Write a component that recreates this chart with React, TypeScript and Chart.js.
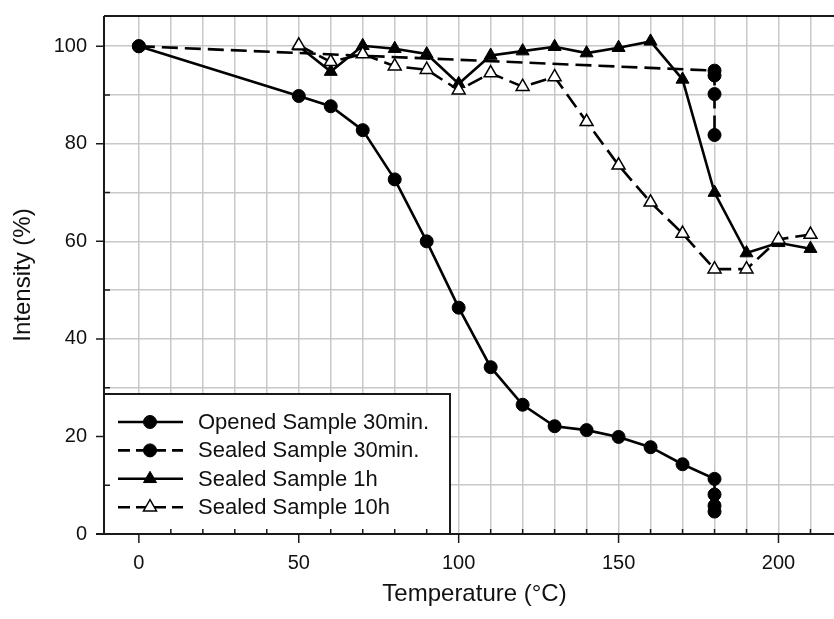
import React, { useEffect, useRef } from 'react';
import { Chart, registerables } from 'chart.js';

Chart.register(...registerables);

const FONT = "'Liberation Sans', Arial, Helvetica, sans-serif";

const seriesLabels = [
  'Opened Sample 30min.',
  'Sealed Sample 30min.',
  'Sealed Sample 1h',
  'Sealed Sample 10h',
];

const openedTemp = [0, 50, 60, 70, 80, 90, 100, 110, 120, 130, 140, 150, 160, 170, 180, 180, 180, 180];
const openedIntensity = [100, 89.8, 87.7, 82.8, 72.7, 60.0, 46.4, 34.2, 26.5, 22.1, 21.3, 19.9, 17.8, 14.3, 11.3, 8.1, 5.8, 4.6];

const sealed30Temp = [0, 180, 180, 180, 180];
const sealed30Intensity = [100, 95.0, 94.0, 90.2, 81.8];

const sealed1hTemp = [50, 60, 70, 80, 90, 100, 110, 120, 130, 140, 150, 160, 170, 180, 190, 200, 210];
const sealed1hIntensity = [100, 94.8, 100.1, 99.5, 98.4, 92.3, 98.1, 99.0, 99.9, 98.6, 99.7, 101.0, 93.2, 70.0, 57.6, 59.7, 58.5];

const sealed10hTemp = [50, 60, 70, 80, 90, 100, 110, 120, 130, 140, 150, 160, 170, 180, 190, 200, 210];
const sealed10hIntensity = [100.2, 96.8, 98.4, 95.9, 95.2, 91.0, 94.5, 91.7, 93.7, 84.5, 75.6, 68.0, 61.6, 54.3, 54.3, 60.4, 61.4];

const xTickLabels = [0, 50, 100, 150, 200];
const yTickLabels = [0, 20, 40, 60, 80, 100];
const xGridValues = [0, 10, 20, 30, 40, 50, 60, 70, 80, 90, 100, 110, 120, 130, 140, 150, 160, 170, 180, 190, 200, 210, 220];
const yGridValues = [0, 10, 20, 30, 40, 50, 60, 70, 80, 90, 100];
const xTitle = 'Temperature (°C)';
const yTitle = 'Intensity (%)';

const X_MIN = -10.9;
const X_MAX = 220.8;
const Y_MIN = 0;
const Y_MAX = 106.2;

const AXIS_COLOR = '#1a1a1a';
const GRID_COLOR = '#c8c8c8';
const VIEW_W = 834;
const CANVAS_W = 854;
const CANVAS_H = 619;

function drawMarker(ctx: CanvasRenderingContext2D, style: string, x: number, y: number, r: number, fill: string, stroke: string, bw: number) {
  ctx.save();
  ctx.beginPath();
  if (style === 'triangle') {
    let rad = 0;
    ctx.moveTo(x + Math.sin(rad) * r, y - Math.cos(rad) * r);
    rad += (2 * Math.PI) / 3;
    ctx.lineTo(x + Math.sin(rad) * r, y - Math.cos(rad) * r);
    rad += (2 * Math.PI) / 3;
    ctx.lineTo(x + Math.sin(rad) * r, y - Math.cos(rad) * r);
    ctx.closePath();
  } else {
    ctx.arc(x, y, r, 0, Math.PI * 2);
  }
  ctx.fillStyle = fill;
  ctx.fill();
  ctx.lineWidth = bw;
  ctx.strokeStyle = stroke;
  ctx.setLineDash([]);
  ctx.stroke();
  ctx.restore();
}

const framePlugin = {
  id: 'frame',
  afterDatasetsDraw(chart: any) {
    const ctx: CanvasRenderingContext2D = chart.ctx;
    const area = chart.chartArea;
    const boxW = 346;
    const boxH = 140;
    const bx = area.left;
    const by = area.bottom - boxH;
    ctx.save();
    ctx.fillStyle = '#ffffff';
    ctx.fillRect(bx, by, boxW, boxH);
    ctx.lineWidth = 2;
    ctx.strokeStyle = AXIS_COLOR;
    ctx.strokeRect(bx, by, boxW, boxH);
    const rowH = 28.4;
    const firstRow = by + 28;
    chart.data.datasets.forEach((ds: any, i: number) => {
      const cy = firstRow + i * rowH;
      const x1 = bx + 14;
      const x2 = bx + 79;
      const mx = bx + 46;
      ctx.save();
      ctx.beginPath();
      ctx.lineWidth = ds.borderWidth;
      ctx.strokeStyle = '#000';
      ctx.setLineDash(ds.borderDash && ds.borderDash.length ? [12, 6] : []);
      ctx.moveTo(x1, cy);
      ctx.lineTo(x2, cy);
      ctx.stroke();
      ctx.restore();
      drawMarker(ctx, ds.pointStyle, mx, cy, ds.pointRadius, ds.pointBackgroundColor, ds.pointBorderColor, ds.pointBorderWidth);
      ctx.fillStyle = '#111';
      ctx.font = `22px ${FONT}`;
      ctx.textAlign = 'left';
      ctx.textBaseline = 'middle';
      ctx.fillText(ds.label, bx + 94, cy + 1);
    });
    ctx.restore();
  },
  afterDraw(chart: any) {
    const ctx: CanvasRenderingContext2D = chart.ctx;
    const area = chart.chartArea;
    const xs = chart.scales.x;
    const ys = chart.scales.y;
    ctx.save();
    ctx.strokeStyle = AXIS_COLOR;
    ctx.lineWidth = 2;
    ctx.setLineDash([]);
    ctx.beginPath();
    ctx.moveTo(area.left, area.top);
    ctx.lineTo(area.left, area.bottom);
    ctx.moveTo(area.left - 8, area.bottom);
    ctx.lineTo(area.right, area.bottom);
    ctx.moveTo(area.left, area.top);
    ctx.lineTo(area.right, area.top);
    ctx.stroke();
    ctx.lineWidth = 1.5;
    ctx.beginPath();
    xGridValues.forEach((v) => {
      const px = xs.getPixelForValue(v);
      if (xTickLabels.includes(v)) {
        ctx.moveTo(px, area.bottom);
        ctx.lineTo(px, area.bottom + 9);
      } else {
        ctx.moveTo(px, area.bottom);
        ctx.lineTo(px, area.bottom - 5);
      }
    });
    yGridValues.forEach((v) => {
      const py = ys.getPixelForValue(v);
      if (yTickLabels.includes(v)) {
        ctx.moveTo(area.left, py);
        ctx.lineTo(area.left - 8, py);
      } else {
        ctx.moveTo(area.left, py);
        ctx.lineTo(area.left + 6, py);
      }
    });
    ctx.stroke();
    ctx.restore();
  },
};

function pts(xs: number[], ys: number[]) {
  return xs.map((x, i) => ({ x, y: ys[i] }));
}

export default function App() {
  const ref = useRef<HTMLCanvasElement>(null);

  useEffect(() => {
    const canvas = ref.current;
    if (!canvas) return;
    const chart = new Chart(canvas, {
      type: 'scatter',
      data: {
        datasets: [
          {
            label: seriesLabels[0],
            data: pts(openedTemp, openedIntensity),
            showLine: true,
            borderColor: '#000',
            backgroundColor: '#000',
            borderWidth: 2.6,
            borderDash: [],
            pointStyle: 'circle',
            pointRadius: 6.5,
            pointBackgroundColor: '#000',
            pointBorderColor: '#000',
            pointBorderWidth: 1,
            order: 1,
          },
          {
            label: seriesLabels[1],
            data: pts(sealed30Temp, sealed30Intensity),
            showLine: true,
            borderColor: '#000',
            backgroundColor: '#000',
            borderWidth: 2.6,
            borderDash: [16, 7],
            pointStyle: 'circle',
            pointRadius: 6.5,
            pointBackgroundColor: '#000',
            pointBorderColor: '#000',
            pointBorderWidth: 1,
            order: 2,
          },
          {
            label: seriesLabels[2],
            data: pts(sealed1hTemp, sealed1hIntensity),
            showLine: true,
            borderColor: '#000',
            backgroundColor: '#000',
            borderWidth: 2.6,
            borderDash: [],
            pointStyle: 'triangle',
            pointRadius: 7.5,
            pointBackgroundColor: '#000',
            pointBorderColor: '#000',
            pointBorderWidth: 1,
            order: 3,
          },
          {
            label: seriesLabels[3],
            data: pts(sealed10hTemp, sealed10hIntensity),
            showLine: true,
            borderColor: '#000',
            backgroundColor: '#fff',
            borderWidth: 2.6,
            borderDash: [16, 7],
            pointStyle: 'triangle',
            pointRadius: 7.5,
            pointBackgroundColor: '#fff',
            pointBorderColor: '#000',
            pointBorderWidth: 1.5,
            order: 0,
          },
        ] as any,
      },
      options: {
        animation: false,
        responsive: false,
        events: [],
        layout: { padding: { top: 16, left: 0, right: 0, bottom: 0 } },
        plugins: {
          legend: { display: false },
          tooltip: { enabled: false },
        },
        scales: {
          x: {
            type: 'linear',
            position: 'bottom',
            min: X_MIN,
            max: X_MAX,
            afterBuildTicks: (s: any) => {
              s.ticks = xGridValues.map((v) => ({ value: v }));
            },
            afterFit: (s: any) => {
              s.height = 85;
              s.paddingLeft = 0;
              s.paddingRight = 0;
              s.paddingTop = 0;
              s.paddingBottom = 0;
            },
            grid: { color: GRID_COLOR, lineWidth: 1.5, drawTicks: false },
            border: { display: false },
            ticks: {
              padding: 17,
              autoSkip: false,
              maxRotation: 0,
              color: '#111',
              font: { family: FONT, size: 20 },
              callback: (v: any) => (xTickLabels.includes(Number(v)) ? String(v) : ''),
            },
            title: {
              display: true,
              text: xTitle,
              color: '#111',
              font: { family: FONT, size: 24 },
              padding: { top: 0, bottom: 10 },
            },
          },
          y: {
            type: 'linear',
            min: Y_MIN,
            max: Y_MAX,
            afterBuildTicks: (s: any) => {
              s.ticks = yGridValues.map((v) => ({ value: v }));
            },
            afterFit: (s: any) => {
              s.width = 104;
              s.paddingLeft = 0;
              s.paddingRight = 0;
              s.paddingTop = 0;
              s.paddingBottom = 0;
            },
            grid: { color: GRID_COLOR, lineWidth: 1.5, drawTicks: false },
            border: { display: false },
            ticks: {
              padding: 17,
              autoSkip: false,
              color: '#111',
              font: { family: FONT, size: 20 },
              callback: (v: any) => (yTickLabels.includes(Number(v)) ? String(v) : ''),
            },
            title: {
              display: true,
              text: yTitle,
              color: '#111',
              font: { family: FONT, size: 24 },
              padding: { top: 9, bottom: 0 },
            },
          },
        },
      } as any,
      plugins: [framePlugin],
    });
    return () => chart.destroy();
  }, []);

  return (
    <div style={{ position: 'fixed', left: 0, top: 0, width: VIEW_W, height: CANVAS_H, overflow: 'hidden', background: '#fff' }}>
      <canvas ref={ref} width={CANVAS_W} height={CANVAS_H} style={{ display: 'block', width: CANVAS_W, height: CANVAS_H }} />
    </div>
  );
}
